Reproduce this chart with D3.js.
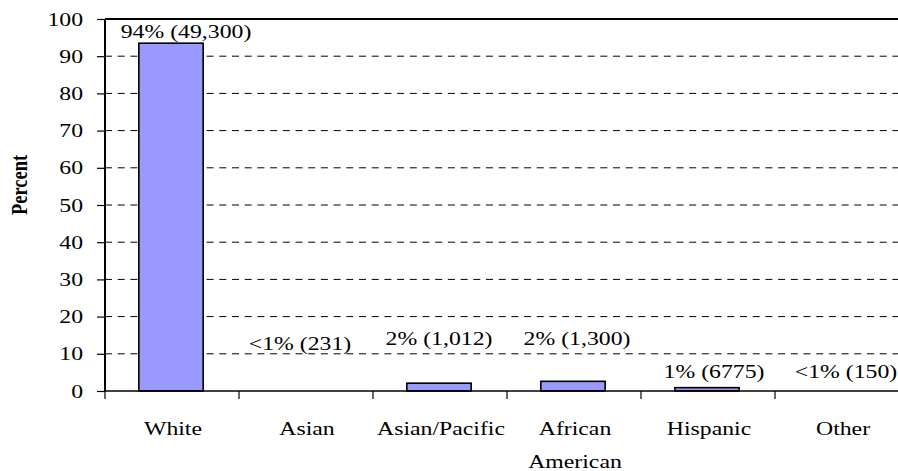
<!DOCTYPE html>
<html><head><meta charset="utf-8">
<script src="https://cdn.jsdelivr.net/npm/d3@7"></script>
<style>
body{margin:0;background:#fff}
text{font-family:"Liberation Serif","Times New Roman",serif;fill:#000}
</style></head>
<body><svg id="c" width="898" height="471"></svg>
<script>
const categories = ["White","Asian","Asian/Pacific","African\nAmerican","Hispanic","Other"];
const percents = [93.5, 0, 2.1, 2.6, 0.9, 0];
const valueLabels = ["94% (49,300)","<1% (231)","2% (1,012)","2% (1,300)","1% (6775)","<1% (150)"];
const yTicks = [0,10,20,30,40,50,60,70,80,90,100];

(function(){
// label placement (value units for baseline, px for x shift) – layout only
const labelLevel = [95.0, 11.0, 12.4, 12.4, 3.6, 3.6];
const labelDx = [14, -6, -1, 3, 6, 4];

const svg = d3.select("#c");
const SX = 1.25, FS = 19;
const pL = 105, pR = 909, pT = 19, pB = 391;

const x = d3.scaleBand().domain(categories).range([pL, pR]).padding(0);
const y = d3.scaleLinear().domain([0,100]).range([pB, pT]);

function stretchText(g, tx, ty, str, anchor){
  return g.append("text")
    .attr("transform", `translate(${tx},${ty}) scale(${SX},1)`)
    .attr("text-anchor", anchor)
    .attr("font-size", FS)
    .text(str);
}

// gridlines
svg.append("g").selectAll("line").data(yTicks.filter(d => d>0 && d<100)).join("line")
  .attr("x1", pL).attr("x2", pR)
  .attr("y1", d => y(d)).attr("y2", d => y(d))
  .attr("stroke", "#000").attr("stroke-width", 1)
  .attr("stroke-dasharray", "7,5.7");

// top border
svg.append("line").attr("x1", pL).attr("x2", pR).attr("y1", y(100)).attr("y2", y(100))
  .attr("stroke","#000").attr("stroke-width",1.8);

// bars
const bw = x.step()*0.48;
svg.append("g").selectAll("rect").data(categories.map((c,i)=>({c,v:percents[i]})).filter(d=>d.v>0)).join("rect")
  .attr("x", d => x(d.c) + x.bandwidth()/2 - bw/2 - 1)
  .attr("width", bw)
  .attr("y", d => y(d.v))
  .attr("height", d => y(0) - y(d.v))
  .attr("fill", "#9999ff")
  .attr("stroke", "#000").attr("stroke-width", 1.6);

// y axis
const ya = svg.append("g").attr("transform", `translate(${pL},0)`)
  .call(d3.axisLeft(y).tickValues(yTicks).tickSize(8).tickFormat(""));
ya.select(".domain").attr("stroke-width", 2).attr("d", `M0,${pT}V${pB}`);
ya.selectAll(".tick line").attr("stroke-width", 1.2);
yTicks.forEach(t => stretchText(svg, 83, y(t)+6.5, String(t), "end"));

// x axis
const xa = svg.append("g").attr("transform", `translate(0,${pB})`)
  .call(d3.axisBottom(x).tickSize(0).tickFormat(""));
xa.select(".domain").attr("stroke-width", 1.6).attr("d", `M${pL},0H${pR}`);
const bounds = categories.map(c => x(c)).concat([pR]);
xa.selectAll("line.b").data(bounds).join("line").attr("class","b")
  .attr("x1", d=>d).attr("x2", d=>d).attr("y1",0).attr("y2",8)
  .attr("stroke","#000").attr("stroke-width",1.2);

categories.forEach(c => {
  c.split("\n").forEach((ln, j) => stretchText(svg, x(c)+x.bandwidth()/2 + 1, 435 + j*33, ln, "middle"));
});

// value labels
categories.forEach((c,i) => {
  stretchText(svg, x(c)+x.bandwidth()/2 + labelDx[i], y(labelLevel[i]), valueLabels[i], "middle");
});

// y title
svg.append("text")
  .attr("transform", "translate(27,185) rotate(-90) scale(1,1.25)")
  .attr("text-anchor","middle").attr("font-size", 18.5).attr("font-weight","bold")
  .text("Percent");
})();
</script></body></html>
